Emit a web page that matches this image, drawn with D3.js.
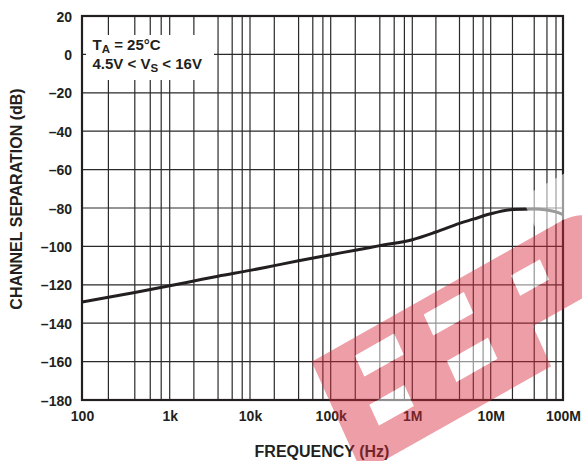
<!DOCTYPE html>
<html>
<head>
<meta charset="utf-8">
<script src="https://cdn.jsdelivr.net/npm/d3@7/dist/d3.min.js"></script>
<style>
  html, body { margin: 0; padding: 0; background: #fff; }
  svg { display: block; font-family: "Liberation Sans", Arial, Helvetica, sans-serif; }
</style>
</head>
<body>
<svg id="chart" width="582" height="461"></svg>
<script>
// ---- data ----
const freqHz = [100, 200, 400, 1e3, 2e3, 4e3, 1e4, 2e4, 4e4, 1e5, 2e5, 4e5, 1e6, 2e6, 4e6, 6e6, 1e7, 2e7, 4e7, 6e7, 8e7, 1e8];
const channelSepDb = [-129, -126.5, -124, -120.5, -118, -115.5, -112.5, -110, -107.5, -104.3, -102, -99.6, -96.5, -92.5, -88, -85.8, -83, -80.8, -80.5, -81, -82, -83.5];
const xDecades = [1e2, 1e3, 1e4, 1e5, 1e6, 1e7, 1e8];
const xTickLabels = ["100", "1k", "10k", "100k", "1M", "10M", "100M"];
const xMinorMultipliers = [2, 4, 6, 8];
const yTicks = [20, 0, -20, -40, -60, -80, -100, -120, -140, -160, -180];
const annotationLines = [["T", "A", " = 25°C"], ["4.5V < V", "S", " < 16V"]];
const xTitle = "FREQUENCY (Hz)";
const yTitle = "CHANNEL SEPARATION (dB)";

// ---- layout ----
const svg = d3.select("#chart");
const ink = "#231f20";
const pL = 82, pR = 563, pT = 16, pB = 400;

// decade spacing of the original grid is slightly uneven -> piecewise log scale
const x = d3.scaleLog().domain(xDecades)
  .range([pL, 169.7, 250, 330.7, 412.3, 490.7, pR]);
const y = d3.scaleLinear().domain([-180, 20]).range([pB, pT]);

// grid
const vLines = [];
xDecades.forEach((d, i) => {
  vLines.push(d);
  if (i < xDecades.length - 1) xMinorMultipliers.forEach(m => vLines.push(d * m));
});
const grid = svg.append("g");
grid.selectAll("line.v").data(vLines).join("line").attr("class", "v")
  .attr("x1", d => x(d)).attr("x2", d => x(d))
  .attr("y1", pT).attr("y2", pB)
  .attr("stroke", "#2a2a2a").attr("stroke-width", 1.2);
grid.selectAll("line.h").data(yTicks).join("line").attr("class", "h")
  .attr("x1", pL).attr("x2", pR)
  .attr("y1", d => y(d)).attr("y2", d => y(d))
  .attr("stroke", "#2a2a2a").attr("stroke-width", 1.2);

// annotation box (white background cutting grid)
svg.append("rect").attr("x", 86).attr("y", 35).attr("width", 128).attr("height", 45).attr("fill", "#fff");
annotationLines.forEach((parts, i) => {
  const t = svg.append("text").attr("x", 92.5).attr("y", 49.5 + i * 19)
    .attr("font-size", 15).attr("font-weight", "bold").attr("fill", ink);
  t.append("tspan").text(parts[0]);
  t.append("tspan").attr("dy", 3.5).attr("font-size", 11.5).text(parts[1]);
  t.append("tspan").attr("dy", -3.5).text(parts[2]);
});

// frame
svg.append("rect").attr("x", pL).attr("y", pT)
  .attr("width", pR - pL).attr("height", pB - pT)
  .attr("fill", "none").attr("stroke", ink).attr("stroke-width", 2.2);

// curve
const line = d3.line().x((d, i) => x(freqHz[i])).y(d => y(d)).curve(d3.curveMonotoneX);
svg.append("path").datum(channelSepDb).attr("d", line)
  .attr("fill", "none").attr("stroke", ink).attr("stroke-width", 3);

// axes labels
const xAxis = d3.axisBottom(x).tickValues(xDecades).tickSize(0)
  .tickFormat((d, i) => xTickLabels[i]);
const gx = svg.append("g").attr("transform", `translate(0,${pB})`).call(xAxis);
gx.select(".domain").remove();
gx.selectAll("text").attr("dy", 0).attr("y", 21).attr("font-size", 14)
  .attr("font-weight", "bold").attr("fill", ink).attr("font-family", "Liberation Sans, Arial, sans-serif");

const yAxis = d3.axisLeft(y).tickValues(yTicks).tickSize(0)
  .tickFormat(d => d < 0 ? "–" + Math.abs(d) : String(d));
const gy = svg.append("g").attr("transform", `translate(${pL},0)`).call(yAxis);
gy.select(".domain").remove();
gy.selectAll("text").attr("x", -10).attr("dy", "0.36em").attr("font-size", 14)
  .attr("font-weight", "bold").attr("fill", ink).attr("font-family", "Liberation Sans, Arial, sans-serif");

svg.append("text").attr("x", 322).attr("y", 457).attr("text-anchor", "middle")
  .attr("font-size", 16).attr("font-weight", "bold").attr("fill", ink).text(xTitle);
svg.append("text").attr("transform", "translate(22,199) rotate(-90)").attr("text-anchor", "middle")
  .attr("font-size", 16).attr("font-weight", "bold").attr("fill", ink).text(yTitle);

// watermark (skewed "EEP" block)
const wm = svg.append("g").attr("transform", "matrix(0.871,-0.491,0.413,0.911,311.7,361.7)");
wm.append("rect").attr("x", 260).attr("y", -40).attr("width", 110).attr("height", 40)
  .attr("fill", "#fff").attr("opacity", 0.55);
const holes = [[42, 16, 45, 23], [35, 66, 40, 23], [122, 14, 46, 23], [124, 66, 47, 23], [218, 23, 33, 22]];
let wd = "M0,0 H285 Q322,0 322,35 V42 Q322,78 285,78 H217 V122 H0 Z";
holes.forEach(h => { wd += ` M${h[0]},${h[1]} h${h[2]} v${h[3]} h${-h[2]} Z`; });
wm.append("path").attr("d", wd).attr("fill-rule", "evenodd")
  .attr("fill", "rgb(214,40,57)").attr("opacity", 0.45);
holes.forEach(h => {
  wm.append("rect").attr("x", h[0]).attr("y", h[1]).attr("width", h[2]).attr("height", h[3])
    .attr("fill", "#fff").attr("opacity", 0.5);
});
</script>
</body>
</html>
